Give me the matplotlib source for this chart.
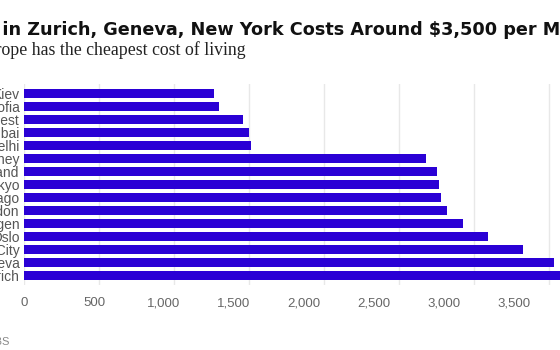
import matplotlib
matplotlib.use('Agg')
import matplotlib.pyplot as plt

# monthly cost of living, USD
cities = ['Kiev', 'Sofia', 'Bucharest', 'Mumbai', 'New Delhi', 'Sydney', 'Auckland',
          'Tokyo', 'Chicago', 'London', 'Copenhagen', 'Oslo', 'New York City',
          'Geneva', 'Zurich']
costs = [1270, 1300, 1460, 1498, 1516, 2680, 2756, 2767, 2782, 2822, 2929, 3096,
         3329, 3533, 3660]
ticks = [0, 500, 1000, 1500, 2000, 2500, 3000, 3500]
tick_labels = ['0', '500', '1,000', '1,500', '2,000', '2,500', '3,000', '3,500']

title = 'Living in Zurich, Geneva, New York Costs Around $3,500 per Month'
title_prefix = 'Living '
subtitle = 'Eastern Europe has the cheapest cost of living'
subtitle_prefix = 'Eastern Eur'
source = 'Source: UBS'

W, H = 560, 350
fig = plt.figure(figsize=(W / 100, H / 100), dpi=100)
fig.patch.set_facecolor('white')

ax = fig.add_axes([24 / W, 1 - 285 / H, 536 / W, 201 / H])
y = list(range(len(cities)))
ax.barh(y, costs, height=0.74, color='#2a00d5', zorder=2)
ax.set_xlim(0, 536 / 0.15)
ax.set_ylim(len(cities) - 0.5 + 0.23, -0.5 - 0.23)

ax.set_yticks(y)
ax.set_yticklabels(cities, fontsize=10, color='#555555', family='Liberation Sans')
ax.tick_params(axis='y', length=0, pad=3)

ax.set_xticks(ticks)
ax.tick_params(axis='x', length=0, labelbottom=False)
ax.grid(axis='x', color='#e8e8e8', lw=1, zorder=0)
for s in ax.spines.values():
    s.set_visible(False)

# tick labels sit on a slightly tighter scale than the gridlines in the original
sec = ax.secondary_xaxis('bottom', functions=(lambda v: v * 75 / 70, lambda v: v * 70 / 75))
sec.set_xticks(ticks)
sec.set_xticklabels(tick_labels, fontsize=9.5, color='#666666', family='Liberation Sans')
sec.tick_params(length=0, pad=9)
sec.spines['bottom'].set_visible(False)

# title / subtitle are cut off on the left, like in the reference
renderer = fig.canvas.get_renderer()
def place(txt, prefix, x_px, y_px, **kw):
    t = fig.text(0, 0, prefix, **kw)
    w = t.get_window_extent(renderer).width
    t.remove()
    fig.text((x_px - w) / W, 1 - y_px / H, txt, va='baseline', **kw)

place(title, title_prefix, 2, 35, fontsize=12.7, fontweight='bold',
      family='DejaVu Sans', color='#111111')
place(subtitle, subtitle_prefix, 1, 55, fontsize=12.8, family='Liberation Serif',
      color='#222222')

fig.text(9 / W, 1 - 345 / H, source, ha='right', va='baseline', fontsize=8,
         color='#888888', family='Liberation Sans')

fig.savefig('out.png', dpi=100)
